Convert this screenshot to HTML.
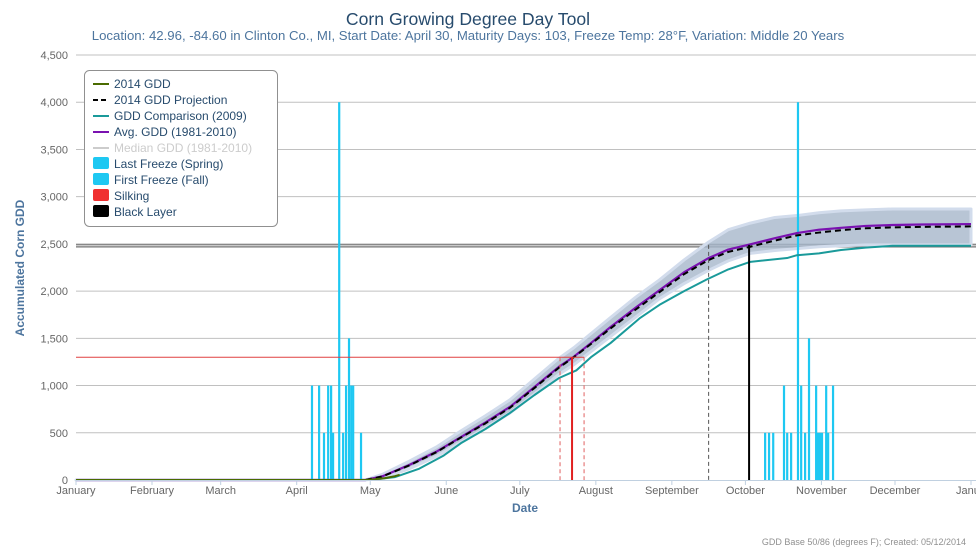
<!DOCTYPE html>
<html><head><meta charset="utf-8"><style>
body{margin:0;background:#fff;font-family:"Liberation Sans",sans-serif}
svg text{font-family:"Liberation Sans",sans-serif}
</style></head><body>
<svg id="c" width="976" height="550" xmlns="http://www.w3.org/2000/svg">
<text x="468" y="25" text-anchor="middle" font-size="17.6" fill="#274b6d">Corn Growing Degree Day Tool</text>
<text x="468" y="40" text-anchor="middle" font-size="13.2" fill="#4d759e">Location: 42.96, -84.60 in Clinton Co., MI, Start Date: April 30, Maturity Days: 103, Freeze Temp: 28°F, Variation: Middle 20 Years</text>
<g id="grid"></g><g id="marks"></g><g id="axes"></g>
<text transform="translate(24,268) rotate(-90)" text-anchor="middle" font-size="12" font-weight="bold" fill="#4d759e">Accumulated Corn GDD</text>
<text x="525" y="512" text-anchor="middle" font-size="12" font-weight="bold" fill="#4d759e">Date</text>
<text x="966" y="545" text-anchor="end" font-size="9" fill="#909090">GDD Base 50/86 (degrees F); Created: 05/12/2014</text>
<g>
<rect x="84.5" y="70.5" width="193" height="156" rx="5" fill="#fff" stroke="#909090"/>
<g font-size="12" fill="#274b6d">
<line x1="93" y1="84" x2="109" y2="84" stroke="#4a6b00" stroke-width="2"/><text x="114" y="88">2014 GDD</text>
<line x1="93" y1="100" x2="109" y2="100" stroke="#000" stroke-width="2" stroke-dasharray="5,3"/><text x="114" y="104">2014 GDD Projection</text>
<line x1="93" y1="116" x2="109" y2="116" stroke="#1a9a9a" stroke-width="2"/><text x="114" y="120">GDD Comparison (2009)</text>
<line x1="93" y1="132" x2="109" y2="132" stroke="#7a12b0" stroke-width="2"/><text x="114" y="136">Avg. GDD (1981-2010)</text>
<line x1="93" y1="148" x2="109" y2="148" stroke="#ccc" stroke-width="2"/><text x="114" y="152" fill="#ccc">Median GDD (1981-2010)</text>
<rect x="93" y="157" width="16" height="12" rx="2" fill="#1ec8f2"/><text x="114" y="168">Last Freeze (Spring)</text>
<rect x="93" y="173" width="16" height="12" rx="2" fill="#1ec8f2"/><text x="114" y="184">First Freeze (Fall)</text>
<rect x="93" y="189" width="16" height="12" rx="2" fill="#f03030"/><text x="114" y="200">Silking</text>
<rect x="93" y="205" width="16" height="12" rx="2" fill="#000"/><text x="114" y="216">Black Layer</text>
</g></g>
</svg>
<script>
const monthLabels=["January","February","March","April","May","June","July","August","September","October","November","December","Janua"];
const monthDays=[0,31,59,90,120,151,181,212,243,273,304,334,365];
const yTicks=[0,500,1000,1500,2000,2500,3000,3500,4000,4500];
const springDays=[96.2,99.1,101.1,102.8,104,104.8,107.3,108.9,110.1,111.3,112.2,113,116.2];
const springVals=[1000,1000,500,1000,1000,500,4000,500,1000,1500,1000,1000,500];
const fallDays=[281,282.6,284.3,288.7,290,291.6,294.4,295.7,297.3,298.9,301.8,302.6,303.4,304.2,305.9,306.7,308.7];
const fallVals=[500,500,500,1000,500,500,4000,1000,500,1500,1000,500,500,500,1000,500,1000];
const avgDays=[0,118,125,136,147,157,167,177,187,197,203,210,218,228,238,248,258,266,275,285,294,303,312,322,333,345,365];
const avgVals=[0,0,40,160,300,455,610,775,985,1200,1305,1450,1620,1820,2010,2200,2350,2440,2495,2560,2615,2650,2670,2690,2700,2705,2710];
const projVals=[0,0,38,155,295,450,600,765,975,1190,1300,1440,1605,1800,1990,2180,2330,2415,2470,2535,2590,2620,2645,2665,2675,2680,2685];
const compDays=[0,120,130,140,150,157,167,177,187,197,204,210,218,230,238,248,257,266,275,290,294,303,312,322,333,345,365];
const compVals=[0,0,30,120,260,390,540,710,900,1080,1160,1300,1450,1715,1855,2000,2120,2230,2310,2350,2380,2400,2435,2460,2480,2480,2480];
const bandLow=[0,0,20,120,250,400,550,710,910,1120,1220,1360,1520,1720,1920,2080,2220,2320,2400,2430,2450,2470,2480,2490,2490,2490,2490];
const bandHigh=[0,0,60,200,350,520,680,850,1070,1290,1400,1550,1720,1930,2120,2330,2520,2650,2720,2780,2800,2830,2850,2860,2870,2870,2870];
const gdd2014Days=[0,118,122,126,130,132];
const gdd2014Vals=[0,0,8,20,40,55];
const silkDay=202.3, silkLo=197.4, silkHi=207.2, silkGdd=1300;
const blackDay=274.5, blackLo=258, blackGdd=[2468,2490];
const X=d=>76+d*(895/365), Y=v=>480-v*(425/4500);
const NS="http://www.w3.org/2000/svg";
function mk(p,t,a){const e=document.createElementNS(NS,t);for(const k in a)e.setAttribute(k,a[k]);document.getElementById(p).appendChild(e);return e;}
yTicks.forEach((v,i)=>{
 if(v>0){const l=mk('grid','line',{x1:76,x2:976,y1:Y(v),y2:Y(v),stroke:'#c0c0c0'});
 
 }
 const t=mk('axes','text',{x:68,y:Y(v)+4,'text-anchor':'end','font-size':11,fill:'#666'});t.textContent=v.toLocaleString('en-US');
 
 
});
const ax=mk('axes','line',{x1:76,x2:976,y1:480.5,y2:480.5,stroke:'#c0d0e0'});


monthDays.forEach((d,i)=>{
 mk('axes','line',{x1:X(d),x2:X(d),y1:480,y2:485,stroke:'#c0d0e0'});
 const t=mk('axes','text',{x:X(d),y:494,'text-anchor':'middle','font-size':11,fill:'#666'});t.textContent=monthLabels[i];
 
 
});
blackGdd.forEach(v=>{const l=mk('marks','line',{x1:76,x2:976,y1:Y(v),y2:Y(v),stroke:'#707070','stroke-width':1.2});
 
 });
let pts=avgDays.map((d,i)=>X(d)+','+Y(bandHigh[i])).concat(avgDays.map((d,i)=>X(d)+','+Y(bandLow[i])).reverse());
const band=mk('marks','polygon',{points:pts.join(' '),fill:'#a6b6cb','fill-opacity':0.8,stroke:'#d2dcec','stroke-width':3,'stroke-linejoin':'round'});


function bars(days,vals,name){days.forEach((d,i)=>{const r=mk('marks','rect',{x:X(d)-1,y:Y(vals[i]),width:2.2,height:480-Y(vals[i]),fill:'#1ec8f2'});
 
 });}
bars(springDays,springVals,'last-freeze-bar');bars(fallDays,fallVals,'first-freeze-bar');
function line(days,vals,col,w,dash,name){const l=mk('marks','polyline',{points:days.map((d,i)=>X(d)+','+Y(vals[i])).join(' '),fill:'none',stroke:col,'stroke-width':w,'stroke-dasharray':dash||'none','stroke-linejoin':'round'});
 
 }
line(compDays,compVals,'#1a9a9a',2,null,'comparison-2009-line');
line(avgDays,avgVals,'#7a12b0',2.2,null,'avg-gdd-line');
line(avgDays,projVals,'#000',2,'6,4','projection-line');
line(gdd2014Days,gdd2014Vals,'#4a6b00',2,null,'gdd-2014-line');
function vl(d,top,col,w,dash,name){const l=mk('marks','line',{x1:X(d),x2:X(d),y1:Y(top),y2:480,stroke:col,'stroke-width':w,'stroke-dasharray':dash||'none'});
 
 }
const h=mk('marks','line',{x1:76,x2:X(silkHi),y1:Y(silkGdd),y2:Y(silkGdd),stroke:'#e04040','stroke-width':1});


vl(silkLo,silkGdd,'#e06060',1,'4,3','silking-early');vl(silkHi,silkGdd,'#e06060',1,'4,3','silking-late');
vl(silkDay,silkGdd,'#e02020',2,null,'silking-date');
vl(blackLo,blackGdd[1],'#555',1,'4,3','black-layer-early');
vl(blackDay,blackGdd[1],'#000',2,null,'black-layer-date');
</script>
</body></html>
